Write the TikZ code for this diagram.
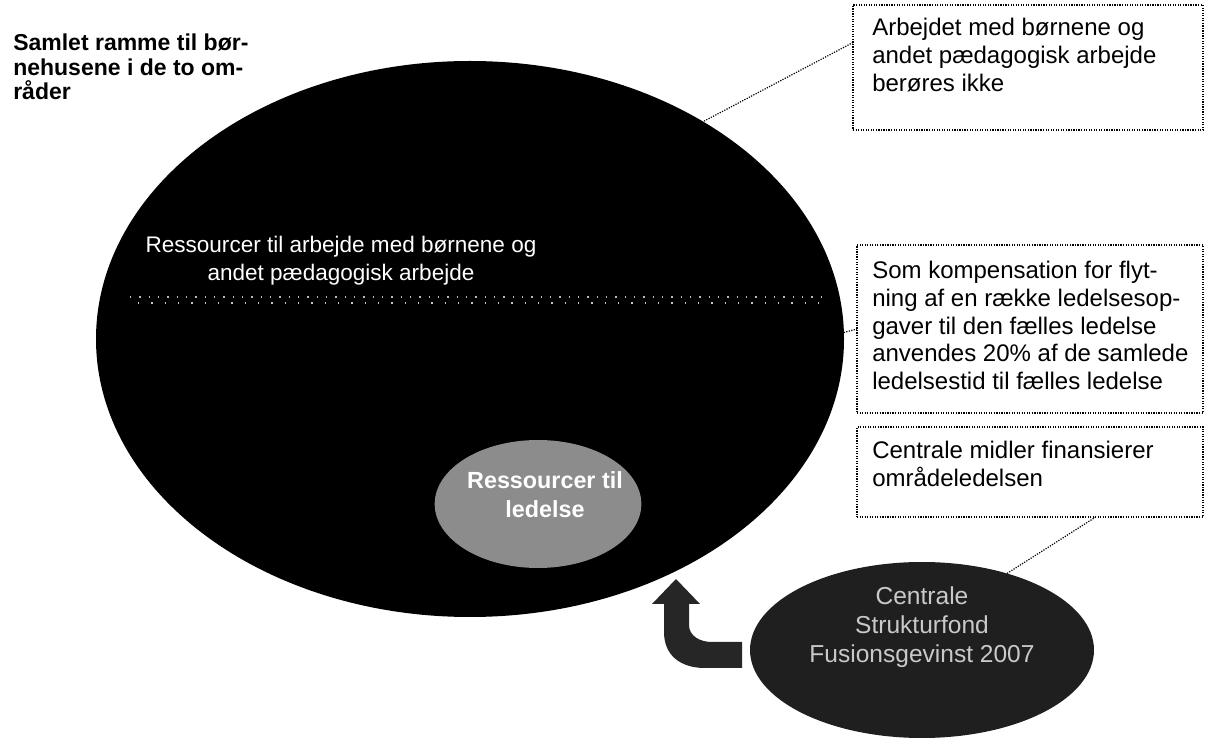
\documentclass[tikz,border=0pt]{standalone}
\usepackage{fontspec}
\setmainfont{Liberation Sans}
\usetikzlibrary{shapes.geometric,calc}
\tikzset{
  callout/.style={draw, densely dotted, line width=0.9pt, inner sep=0pt, outer sep=0pt},
  boxtext/.style={anchor=north west, align=left, inner sep=0pt, font=\fontsize{18}{20.8}\selectfont},
  link/.style={densely dotted, line width=0.9pt},
  blob/.style={ellipse, inner sep=0pt, outer sep=0pt},
}
\begin{document}
\begin{tikzpicture}[x=0.75pt,y=-0.75pt]
\useasboundingbox (0,0) rectangle (1208,748);

% title
\node (title) [anchor=north west, align=left, inner sep=0pt,
  font=\bfseries\fontsize{17.25}{18.4}\selectfont] at (13,34)
  {Samlet ramme til bør-\\nehusene i de to om-\\råder};

% big ellipse
\node (big) [blob, fill=black, minimum width=561pt, minimum height=417pt] at (470,339) {};
\draw[gray!55, line width=1.5pt, dash pattern=on 1pt off 6pt] (130,297) -- (830,297);
\draw[gray!45, line width=1.5pt, dash pattern=on 1pt off 9pt, dash phase=4pt] (130,303) -- (830,303);
\node (bigtxt) [anchor=north, align=center, inner sep=0pt, text=white,
  font=\fontsize{16.9}{21}\selectfont] at (341,236)
  {Ressourcer til arbejde med børnene og\\andet pædagogisk arbejde};

% leadership ellipse
\node (lead) [blob, fill=black!45, minimum width=155pt, minimum height=96pt] at (538,504) {};
\node (leadtxt) [anchor=north, align=center, inner sep=0pt, text=white,
  font=\bfseries\fontsize{17.5}{21.75}\selectfont] at (545,471)
  {Ressourcer til\\ledelse};

% fund ellipse
\node (fund) [blob, fill=black!88, minimum width=258pt, minimum height=132pt] at (922,650) {};
\node (fundtxt) [anchor=north, align=center, inner sep=0pt, text=gray!42,
  font=\fontsize{18.4}{21.75}\selectfont] at (922,586)
  {Centrale\\Strukturfond\\Fusionsgevinst 2007};

% bent arrow
\fill[black!85] (676,579) -- (700,604) -- (689,604) -- (689,625)
  .. controls (689,636) and (700,642) .. (712,642) -- (742,642) -- (742,668) -- (705,668)
  .. controls (680,668) and (664,655) .. (664,632) -- (664,604) -- (652,604) -- cycle;

% callout boxes
\node (b1) [callout, minimum width=262.5pt, minimum height=93.75pt] at (1028,67.5) {};
\node (t1) [boxtext] at (872,18)
  {Arbejdet med børnene og\\andet pædagogisk arbejde\\berøres ikke};

\node (b2) [callout, minimum width=259.5pt, minimum height=126pt] at (1030,329) {};
\node (t2) [boxtext] at (872,261)
  {Som kompensation for flyt-\\ning af en række ledelsesop-\\gaver til den fælles ledelse\\anvendes 20\% af de samlede\\ledelsestid til fælles ledelse};

\node (b3) [callout, minimum width=259.5pt, minimum height=67.5pt] at (1030,472) {};
\node (t3) [boxtext] at (872,441)
  {Centrale midler finansierer\\områdeledelsen};

% connectors
\draw[link] ($(b1.north west)!0.3!(b1.south west)$) -- (big.43);
\draw[link] (big.1) -- (b2.west);
\draw[link] ($(b3.south west)!0.69!(b3.south east)$) -- (fund.42);
\end{tikzpicture}
\end{document}
